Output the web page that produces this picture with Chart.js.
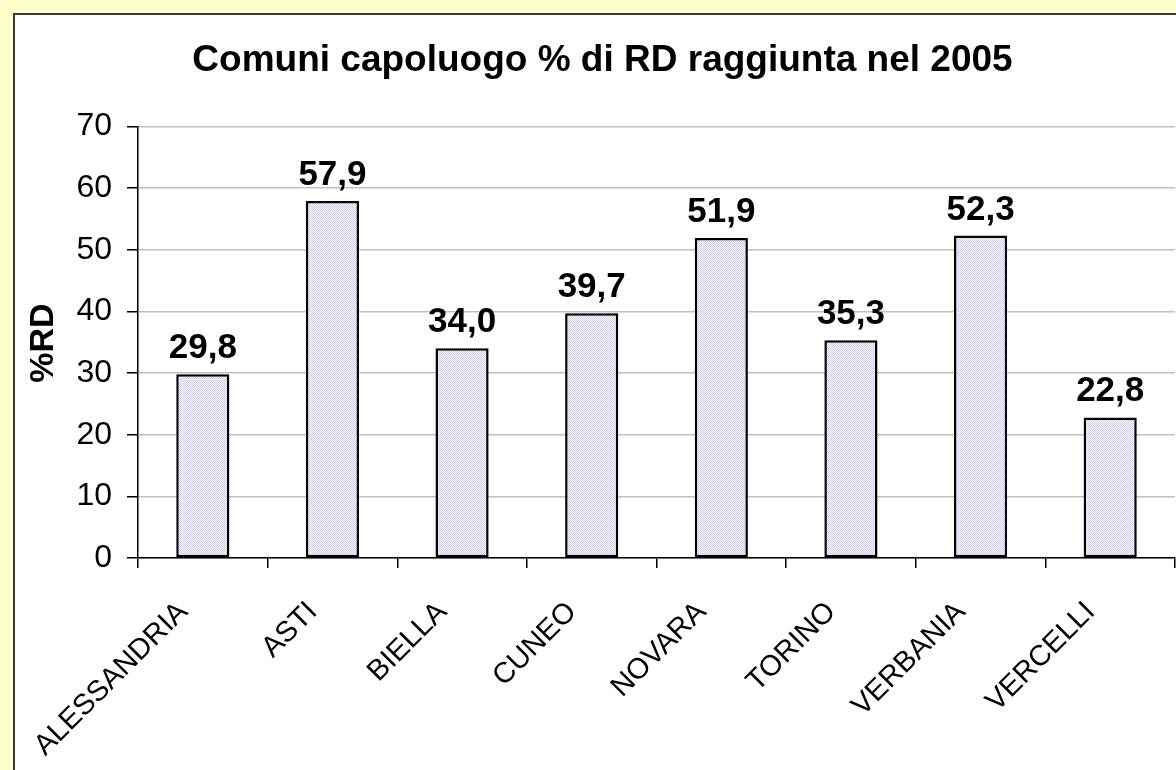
<!DOCTYPE html>
<html>
<head>
<meta charset="utf-8">
<script src="https://cdn.jsdelivr.net/npm/chart.js@4"></script>
<style>
  html, body { margin: 0; padding: 0; background: #FFFFCC; overflow: hidden; }
  #frame { position: absolute; left: 13px; top: 13px; width: 1200px; height: 800px;
           background: #fff; border-left: 2px solid #3a3a3a; border-top: 2px solid #3a3a3a; }
  #wrap { position: absolute; left: 0; top: 0; width: 1176px; height: 770px; }
</style>
</head>
<body>
<div id="frame"></div>
<div id="wrap"><canvas id="rdChart" width="1176" height="770"></canvas></div>
<script>
// Comuni capoluogo - % raccolta differenziata 2005
const categories = ['ALESSANDRIA', 'ASTI', 'BIELLA', 'CUNEO', 'NOVARA', 'TORINO', 'VERBANIA', 'VERCELLI'];
const rdValues = [29.8, 57.9, 34.0, 39.7, 51.9, 35.3, 52.3, 22.8];
const yTicks = [0, 10, 20, 30, 40, 50, 60, 70];

const FONT = '"Liberation Sans", Arial, sans-serif';

const canvas = document.getElementById('rdChart');
const ctx = canvas.getContext('2d');

// dotted lavender fill like the original
const pat = document.createElement('canvas');
pat.width = 2; pat.height = 2;
const pctx = pat.getContext('2d');
pctx.fillStyle = '#F6F6FC';
pctx.fillRect(0, 0, 2, 2);
pctx.fillStyle = '#CFCFEA';
pctx.fillRect(0, 0, 1, 1);
pctx.fillRect(1, 1, 1, 1);
const barFill = ctx.createPattern(pat, 'repeat');

// axis title, rotated category labels and value labels
const textPlugin = {
  id: 'textPlugin',
  afterDraw(chart) {
    const c = chart.ctx;
    const xs = chart.scales.x;
    c.save();
    c.fillStyle = '#000';

    // y axis title
    c.save();
    c.translate(44, 343);
    c.rotate(-Math.PI / 2);
    c.font = 'bold 34px ' + FONT;
    c.textAlign = 'center';
    c.textBaseline = 'middle';
    c.fillText('%RD', 0, 0);
    c.restore();

    // category labels at 45 degrees
    c.font = '29px ' + FONT;
    c.textAlign = 'right';
    c.textBaseline = 'alphabetic';
    categories.forEach((name, i) => {
      const px = xs.getPixelForValue(i);
      c.save();
      c.translate(px - 14, xs.top + 55);
      c.rotate(-Math.PI / 4);
      c.fillText(name, 0, 0);
      c.restore();
    });

    // values above bars, decimal comma
    c.font = 'bold 35px ' + FONT;
    c.textAlign = 'center';
    const meta = chart.getDatasetMeta(0);
    meta.data.forEach((bar, i) => {
      c.fillText(rdValues[i].toFixed(1).replace('.', ','), bar.x, bar.y - 16);
    });
    c.restore();
  }
};

const rdChart = new Chart(ctx, {
  type: 'bar',
  data: {
    labels: categories,
    datasets: [{
      data: rdValues,
      backgroundColor: barFill,
      borderColor: '#000',
      borderWidth: 2.5,
      borderSkipped: false,
      categoryPercentage: 1,
      barPercentage: 0.41
    }]
  },
  options: {
    responsive: false,
    animation: false,
    layout: { padding: { left: 30, right: 1, top: 0, bottom: 0 } },
    plugins: {
      legend: { display: false },
      tooltip: { enabled: false },
      title: {
        display: true,
        text: 'Comuni capoluogo % di RD raggiunta nel 2005',
        color: '#000',
        font: { family: FONT, size: 37, weight: 'bold' },
        padding: { top: 39, bottom: 43 }
      }
    },
    scales: {
      x: {
        ticks: { display: false },
        grid: { offset: true, drawOnChartArea: false, tickLength: 10, tickColor: '#000', lineWidth: 1.5 },
        border: { color: '#000', width: 1.5 },
        afterFit: (s) => { s.height = 212; }
      },
      y: {
        min: 0,
        max: 70,
        afterBuildTicks: (s) => { s.ticks = yTicks.map(v => ({ value: v })); },
        ticks: { color: '#000', padding: 15, font: { family: FONT, size: 32 } },
        grid: { color: '#C0C0C0', tickColor: '#000', tickLength: 11, lineWidth: 1.5 },
        border: { color: '#000', width: 1.5 },
        afterFit: (s) => { s.width = 108; }
      }
    }
  },
  plugins: [textPlugin]
});
</script>
</body>
</html>
